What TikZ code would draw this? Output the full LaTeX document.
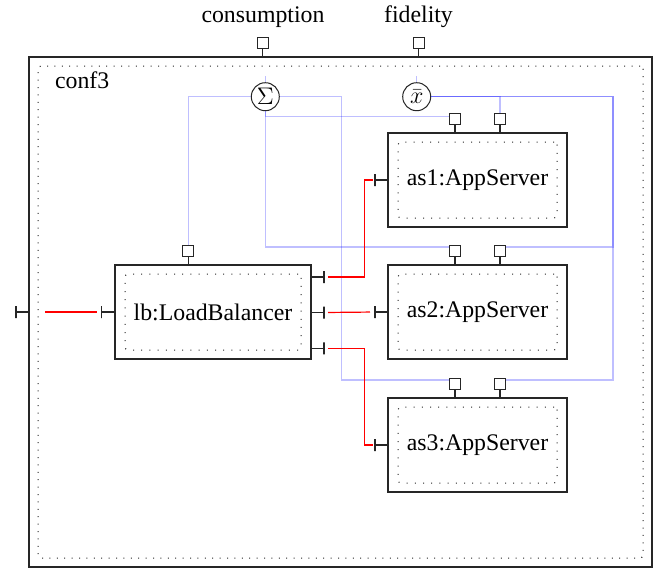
\documentclass[tikz,border=0pt]{standalone}
\usepackage{fontspec}
\setmainfont{Liberation Serif}
\newfontfamily\diafont{Liberation Serif}
\definecolor{wirecolor}{rgb}{1.000000, 0.000000, 0.000000}
\definecolor{buscolor}{rgb}{0.000000, 0.000000, 1.000000}
\definecolor{edgecolor}{rgb}{0.150000, 0.150000, 0.150000}
\newlength{\du}
\setlength{\du}{5pt}
\begin{document}
\begin{tikzpicture}[
  font=\diafont\fontsize{11.9}{14}\selectfont,
  compbox/.style={draw=edgecolor, line width=0.6pt, fill=white, inner sep=0pt},
  innerbox/.style={draw=edgecolor, line width=0.5pt, dash pattern=on 0.5pt off 3.6pt, rounded corners=1.5pt, inner sep=0pt},
  portbox/.style={draw=edgecolor, line width=0.5pt, fill=white, minimum size=1.1\du, inner sep=0pt},
  portbar/.style={draw=edgecolor, line width=0.6pt, minimum width=0pt, minimum height=1.2\du, inner sep=0pt, outer sep=0pt},
  opnode/.style={draw=edgecolor, circle, line width=0.5pt, fill=white, minimum size=2.8\du, inner sep=0pt},
  stem/.style={draw=edgecolor, line width=0.6pt},
  wire/.style={draw=wirecolor, line width=0.6pt},
  bus/.style={draw=buscolor, draw opacity=0.25, line width=0.6pt}
]
\pgftransformxscale{1.000000}
\pgftransformyscale{-1.000000}
\useasboundingbox (0\du,0\du) rectangle (66\du,57\du);
% configuration
\node[compbox, line width=0.9pt, minimum width=62.3\du, minimum height=51\du] (conf3) at (34.05\du,31.2\du) {};
\node[innerbox, dash pattern=on 0.5pt off 3.2pt, minimum width=60.5\du, minimum height=49.2\du] (conf3in) at (conf3) {};
\node[anchor=base west] (lconf) at (4.8\du,8.8\du) {conf3};
\node[portbox] (pcons) at (26.27\du,4.3\du) {};
\node[portbox] (pfid) at (41.85\du,4.3\du) {};
\draw[stem] (pcons) -- (pcons |- conf3.north);
\draw[stem] (pfid) -- (pfid |- conf3.north);
\node[anchor=base] (tcons) at (26.3\du,2.27\du) {consumption};
\node[anchor=base] (tfid) at (41.85\du,2.27\du) {fidelity};
\node[portbar] (cin) at (1.6\du,31.2\du) {};
\draw[stem] (cin) -- (cin -| conf3.west);
% components
\node[compbox, minimum width=19.6\du, minimum height=9.4\du] (lb) at (21.3\du,31.2\du) {};
\node[innerbox, minimum width=17.6\du, minimum height=7.6\du] (lbin) at (lb) {lb:LoadBalancer};
\node[compbox, minimum width=17.9\du, minimum height=9.4\du] (as1) at (47.75\du,18.0\du) {};
\node[innerbox, minimum width=15.9\du, minimum height=7.6\du] (as1in) at (as1) {as1:AppServer};
\node[compbox, minimum width=17.9\du, minimum height=9.4\du] (as2) at (47.75\du,31.2\du) {};
\node[innerbox, minimum width=15.9\du, minimum height=7.6\du] (as2in) at (as2) {as2:AppServer};
\node[compbox, minimum width=17.9\du, minimum height=9.4\du] (as3) at (47.75\du,44.5\du) {};
\node[innerbox, minimum width=15.9\du, minimum height=7.6\du] (as3in) at (as3) {as3:AppServer};
% ports
\node[portbox] (lbp) at (18.83\du,25.1\du) {};
\draw[stem] (lbp) -- (lbp |- lb.north);
\node[portbox] (as1c) at (45.5\du,11.9\du) {};
\node[portbox] (as1d) at (50.0\du,11.9\du) {};
\node[portbox] (as2c) at (45.5\du,25.1\du) {};
\node[portbox] (as2d) at (50.0\du,25.1\du) {};
\node[portbox] (as3c) at (45.5\du,38.4\du) {};
\node[portbox] (as3d) at (50.0\du,38.4\du) {};
\draw[stem] (as1c) -- (as1c |- as1.north);
\draw[stem] (as1d) -- (as1d |- as1.north);
\draw[stem] (as2c) -- (as2c |- as2.north);
\draw[stem] (as2d) -- (as2d |- as2.north);
\draw[stem] (as3c) -- (as3c |- as3.north);
\draw[stem] (as3d) -- (as3d |- as3.north);
\node[portbar] (lbi) at (10.17\du,31.2\du) {};
\draw[stem] (lbi) -- (lb.west);
\node[portbar] (lbo1) at (32.4\du,27.7\du) {};
\node[portbar] (lbo2) at (32.4\du,31.25\du) {};
\node[portbar] (lbo3) at (32.4\du,34.83\du) {};
\draw[stem] (lbo1) -- (lbo1 -| lb.east);
\draw[stem] (lbo2) -- (lbo2 -| lb.east);
\draw[stem] (lbo3) -- (lbo3 -| lb.east);
\node[portbar] (as1i) at (37.5\du,18.0\du) {};
\node[portbar] (as2i) at (37.5\du,31.2\du) {};
\node[portbar] (as3i) at (37.5\du,44.5\du) {};
\draw[stem] (as1i) -- (as1.west);
\draw[stem] (as2i) -- (as2.west);
\draw[stem] (as3i) -- (as3.west);
% aggregators
\node[opnode] (sum) at (26.53\du,9.67\du) {$\Sigma$};
\node[opnode] (avg) at (41.67\du,9.67\du) {$\bar{x}$};
\coordinate (sumtop) at (26.53\du,7.6\du);
\coordinate (avgtop) at (41.67\du,7.6\du);
\coordinate (xm) at (34.17\du,0\du);
\coordinate (xr) at (61.3\du,0\du);
\coordinate (y1) at (0\du,11.67\du);
\coordinate (y2) at (0\du,24.7\du);
\coordinate (y3) at (0\du,38.0\du);
\draw[bus] (sumtop) -- (sum.north);
\draw[bus] (avgtop) -- (avg.north);
\draw[bus] (sum.west) -| (lbp.north);
\draw[bus] (sum.south) -- (sum.south |- y1) -- (y1 -| as1c.west);
\draw[bus] (sum.south) -- (sum.south |- y2) -- (y2 -| as2c.west);
\draw[bus] (sum.east) -- (sum.east -| xm) -- (xm |- y3) -- (y3 -| as3c.west);
\draw[bus] (avg.east) -| (as1d.north);
\draw[bus] (avg.east) -- (avg.east -| xr) -- (xr |- y2) -- (y2 -| as2d.east);
\draw[bus] (avg.east) -- (avg.east -| xr) -- (xr |- y3) -- (y3 -| as3d.east);
% links
\coordinate (src) at (4.5\du,31.2\du);
\coordinate (rbus) at (36.43\du,0\du);
\draw[wire, shorten >=0.5\du] (src) -- (lbi);
\draw[wire, shorten <=0.4\du, shorten >=0.25\du] (lbo1) -- (lbo1 -| rbus) |- (as1i);
\draw[wire, shorten <=0.4\du, shorten >=0.5\du] (lbo2) -- (as2i);
\draw[wire, shorten <=0.4\du, shorten >=0.25\du] (lbo3) -- (lbo3 -| rbus) |- (as3i);
\end{tikzpicture}
\end{document}
